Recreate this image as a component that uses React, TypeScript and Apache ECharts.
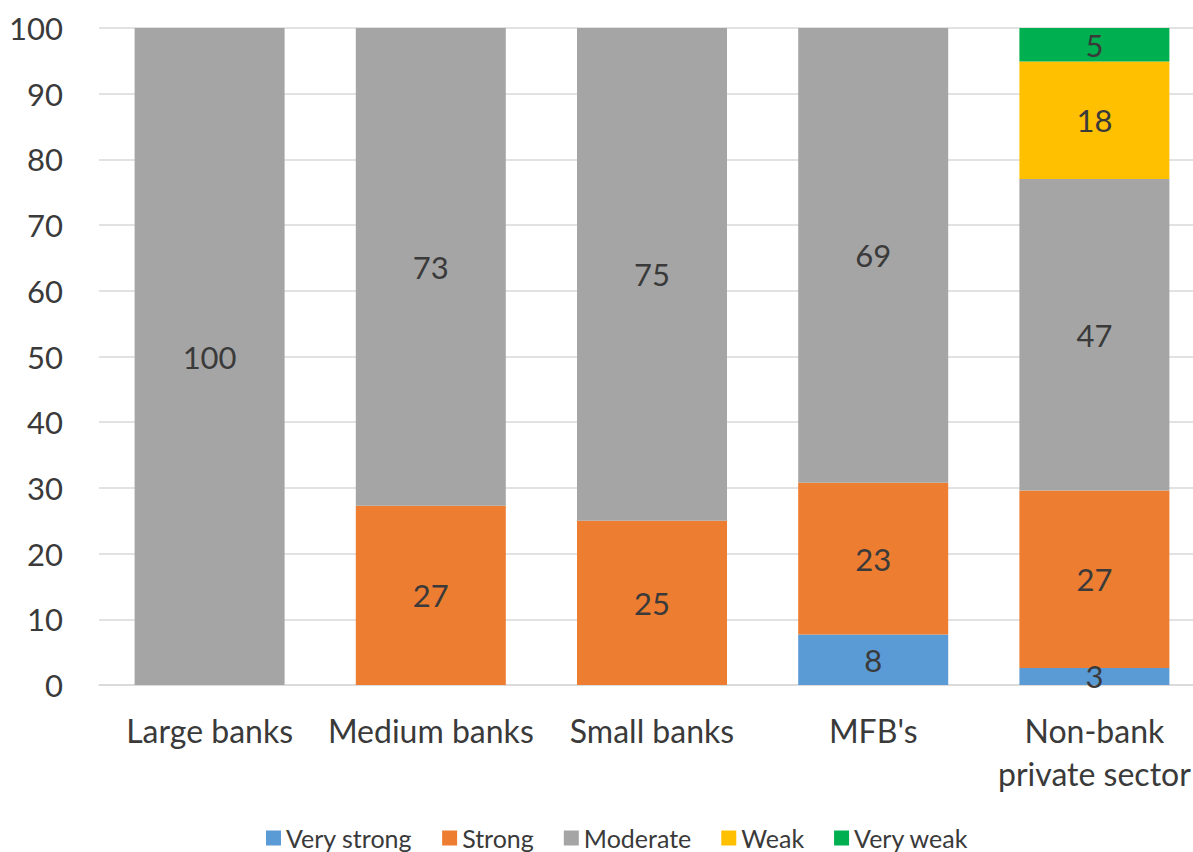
import React, { useEffect, useRef } from "react";
import * as echarts from "echarts";

const categories = ["Large banks", "Medium banks", "Small banks", "MFB's", "Non-bank\nprivate sector"];
const seriesNames = ["Very strong", "Strong", "Moderate", "Weak", "Very weak"];
const veryStrong = [null, null, null, 7.7, 2.6];
const strong = [null, 27.3, 25, 23.1, 27.0];
const moderate = [100, 72.7, 75, 69.2, 47.4];
const weak = [null, null, null, null, 17.9];
const veryWeak = [null, null, null, null, 5.1];
const yTicks = { min: 0, max: 100, interval: 10 };
const colors = ["#5B9BD5", "#ED7D31", "#A5A5A5", "#FFC000", "#00B050"];

const FONT = "Lato, 'Noto Sans', sans-serif";
const TEXT = "#3A3A3A";

export default function App() {
  const ref = useRef<HTMLDivElement>(null);
  useEffect(() => {
    document.body.style.margin = "0";
    const chart = echarts.init(ref.current!, null, { renderer: "svg" });
    const values = [veryStrong, strong, moderate, weak, veryWeak];
    chart.setOption({
      animation: false,
      textStyle: { fontFamily: FONT },
      color: colors,
      grid: { left: 99, right: -12, top: 28, bottom: 167, outerBoundsMode: "none", containLabel: false },
      legend: {
        left: 266,
        top: 825,
        padding: 0,
        itemWidth: 15,
        itemHeight: 15,
        itemGap: 30,
        icon: "rect",
        textStyle: { fontFamily: FONT, fontSize: 25, color: TEXT, lineHeight: 26 },
        data: seriesNames,
      },
      xAxis: {
        type: "category",
        data: categories,
        axisLine: { lineStyle: { color: "#D9D9D9", width: 1.5 } },
        axisTick: { show: false },
        axisLabel: {
          interval: 0,
          color: TEXT,
          fontFamily: FONT,
          fontSize: 32,
          lineHeight: 43,
          margin: 24,
        },
      },
      yAxis: {
        type: "value",
        min: yTicks.min,
        max: yTicks.max,
        interval: yTicks.interval,
        axisLine: { show: false },
        axisTick: { show: false },
        splitLine: { lineStyle: { color: "#D9D9D9", width: 1.5 } },
        axisLabel: { color: TEXT, fontFamily: FONT, fontSize: 31, margin: 36 },
      },
      series: seriesNames.map((name, i) => ({
        name,
        type: "bar",
        stack: "total",
        barWidth: 150,
        data: values[i],
        itemStyle: { color: colors[i] },
        label: {
          show: true,
          position: "inside",
          color: TEXT,
          fontFamily: FONT,
          fontSize: 31,
          formatter: (p: any) => String(Math.round(p.value)),
        },
      })),
    });
    return () => chart.dispose();
  }, []);
  return (
    <div
      ref={ref}
      style={{ position: "absolute", left: 0, top: 0, width: 1193, height: 852 }}
    />
  );
}
